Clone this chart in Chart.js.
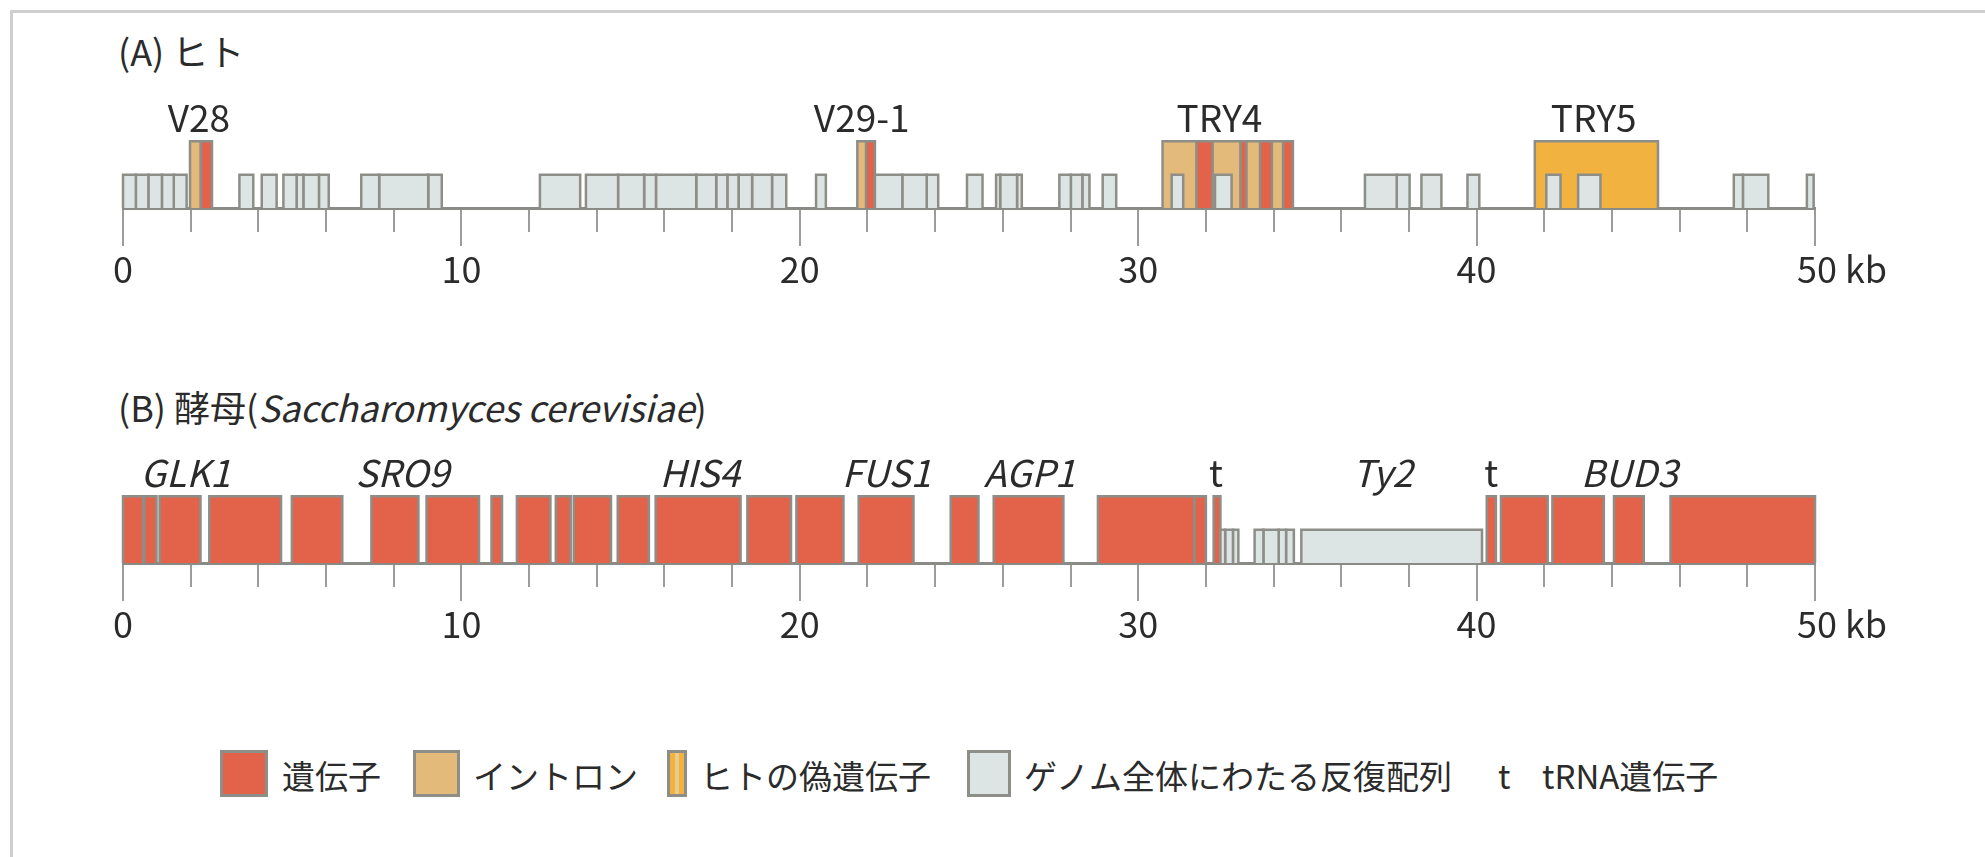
<!DOCTYPE html>
<html lang="ja">
<head>
<meta charset="utf-8">
<title>ヒトと酵母のゲノム領域 50 kb</title>
<script src="https://cdn.jsdelivr.net/npm/chart.js@4.4.1/dist/chart.umd.min.js"></script>
<style>
  html, body { margin: 0; padding: 0; background: #fff; }
  body {
    width: 1985px; height: 857px; position: relative; overflow: hidden;
    font-family: "Noto Sans CJK JP", "Noto Sans", sans-serif; color: #2b2b2b;
  }
  .frame { position: absolute; left: 10px; top: 10px; width: 2100px; height: 1000px; border: 3px solid #cfcfcf; }
  .title { position: absolute; left: 118px; font-size: 36px; line-height: 36px; white-space: nowrap; }
  canvas { position: absolute; left: 0; }
  .sw { position: absolute; top: 750px; height: 41px; border: 3px solid #8e8e89; }
  .lt { position: absolute; top: 759px; font-size: 33px; line-height: 33px; white-space: nowrap; }
</style>
</head>
<body>
<div class="frame"></div>

<div class="title" style="top:32px">(A) ヒト</div>
<canvas id="human" width="1985" height="300" style="top:0px"></canvas>

<div class="title" style="top:388px">(B) 酵母(<i>Saccharomyces cerevisiae</i>)</div>
<canvas id="yeast" width="1985" height="300" style="top:355px"></canvas>

<!-- legend -->
<div class="sw" style="left:220px;width:42px;background:#E2634A"></div>
<div class="lt" style="left:282px">遺伝子</div>
<div class="sw" style="left:413px;width:41px;background:#E3BA79"></div>
<div class="lt" style="left:473px">イントロン</div>
<div class="sw" style="left:667px;width:14px;background:linear-gradient(to right,#F2B23F 0 35%,#EBCB8C 35% 65%,#F2B23F 65%)"></div>
<div class="lt" style="left:700px">ヒトの偽遺伝子</div>
<div class="sw" style="left:967px;width:38px;background:#DDE4E4"></div>
<div class="lt" style="left:1024px">ゲノム全体にわたる反復配列</div>
<div class="lt" style="left:1498px">t</div>
<div class="lt" style="left:1542px">tRNA遺伝子</div>

<script>
// ---- positions along the 50 kb region (kb) ----
const kbTickValues = [0, 10, 20, 30, 40, 50];
const kbTickLabels = ['0', '10', '20', '30', '40', '50 kb'];

// (A) human: runs of adjacent genome-wide repeat units, given as their boundaries
const humanRepeats = [
  [0, 0.38, 0.75, 1.15, 1.5, 1.88],
  [3.44, 3.85],
  [4.1, 4.54],
  [4.74, 5.13, 5.33, 5.79, 6.08],
  [7.04, 7.57, 9.02, 9.42],
  [12.32, 13.51],
  [13.68, 14.63, 15.4, 15.75, 16.94, 17.53, 17.86, 18.19, 18.59, 19.18, 19.6],
  [20.48, 20.77],
  [22.22, 23.03, 23.75, 24.09],
  [24.94, 25.4],
  [25.8, 25.92, 26.42, 26.56],
  [27.67, 28.01, 28.35, 28.56],
  [28.95, 29.35],
  [30.99, 31.33],
  [32.27, 32.76],
  [36.7, 37.64, 38.02],
  [38.37, 38.96],
  [39.73, 40.08],
  [42.06, 42.48],
  [43.0, 43.66],
  [47.6, 47.87, 48.62],
  [49.76, 49.96]
];
const humanIntrons = [[1.98, 2.3], [21.7, 21.96], [30.72, 34.57]];
const humanExons = [[2.3, 2.63], [21.96, 22.22], [31.72, 32.2], [33.02, 33.2], [33.6, 33.95], [34.28, 34.57]];
const humanPseudogenes = [[41.72, 45.36]];
const humanLabelNames = ['V28', 'V29-1', 'TRY4', 'TRY5'];
const humanLabelKb = [2.24, 21.83, 32.4, 43.46];
const humanLabelItalic = [false, false, false, false];

// (B) yeast
const yeastGenes = [
  [0, 0.6], [0.63, 0.99], [1.08, 2.29], [2.55, 4.67], [4.99, 6.48], [7.34, 8.73],
  [8.97, 10.52], [10.89, 11.2], [11.64, 12.63], [12.79, 13.23], [13.32, 14.42],
  [14.62, 15.54], [15.74, 18.25], [18.45, 19.74], [19.9, 21.29], [21.74, 23.36],
  [24.46, 25.28], [25.73, 27.79], [28.81, 31.66], [31.66, 32.0],
  [40.72, 42.1], [42.24, 43.76], [44.06, 44.94], [45.73, 50.0]
];
const yeastTRNAs = [[32.23, 32.43], [40.3, 40.57]];
const yeastRepeats = [
  [32.43, 32.57, 32.8, 32.96],
  [33.44, 33.7, 34.15, 34.37, 34.6],
  [34.82, 40.16]
];
const yeastLabelNames = ['GLK1', 'SRO9', 'HIS4', 'FUS1', 'AGP1', 't', 'Ty2', 't', 'BUD3'];
const yeastLabelKb = [1.85, 8.25, 17.04, 22.56, 26.79, 32.3, 37.22, 40.43, 44.51];
const yeastLabelItalic = [true, true, true, true, true, false, true, false, true];

// ---- drawing style ----
const TALL = 2, SHORT = 1;           // box heights in track units
const COLORS = {
  gene: '#E2634A', intron: '#E3BA79', pseudo: '#F2B23F', repeat: '#DDE4E4',
  outline: '#8e8e89', axis: '#8a8a86', tick: '#9c9c98', text: '#2b2b2b'
};
const FONT = '"Noto Sans CJK JP", "Noto Sans", sans-serif';
Chart.defaults.font.family = FONT;

// one closed box = one filled line from baseline up and back down
function box(span, height, fill, order) {
  const [s, e] = span;
  return {
    data: [{x: s, y: 0}, {x: s, y: height}, {x: e, y: height}, {x: e, y: 0}],
    showLine: true, fill: 'origin', backgroundColor: fill,
    borderColor: COLORS.outline, borderWidth: 2.5, borderJoinStyle: 'miter',
    pointRadius: 0, pointHoverRadius: 0, tension: 0, order, clip: false
  };
}
function units(bounds) {
  const out = [];
  for (let i = 0; i < bounds.length - 1; i++) out.push([bounds[i], bounds[i + 1]]);
  return out;
}

// names written above the track, placed on the kb scale
function labelPlugin(names, kb, italic) {
  return {
    id: 'trackLabels',
    afterDatasetsDraw(chart) {
      const {ctx, scales: {x, y}} = chart;
      ctx.save();
      ctx.fillStyle = COLORS.text;
      ctx.textAlign = 'center';
      ctx.textBaseline = 'middle';
      names.forEach((n, i) => {
        ctx.font = (italic[i] ? 'italic ' : '') + '37px ' + FONT;
        ctx.fillText(n, x.getPixelForValue(kb[i]), y.getPixelForValue(2.7));
      });
      ctx.restore();
    }
  };
}

function makeChart(id, datasets, plugin) {
  return new Chart(document.getElementById(id), {
    type: 'scatter',
    data: {datasets},
    options: {
      responsive: false, animation: false, events: [],
      layout: {padding: {left: 123, right: 170, top: 8, bottom: 0}},
      plugins: {legend: {display: false}, tooltip: {enabled: false}},
      scales: {
        y: {display: false, min: 0, max: 6},
        xm: {
          type: 'linear', position: 'bottom', weight: 0, min: 0, max: 50,
          ticks: {stepSize: 2, display: false},
          grid: {drawOnChartArea: false, tickLength: 24, color: COLORS.tick, lineWidth: 2},
          border: {display: false},
          afterFit: s => { s.height = 0; }
        },
        x: {
          type: 'linear', position: 'bottom', weight: 1, min: 0, max: 50,
          afterBuildTicks: s => { s.ticks = kbTickValues.map(v => ({value: v})); },
          ticks: {
            autoSkip: false, maxRotation: 0, padding: 2, color: COLORS.text,
            font: {size: 36},
            callback: (v, i) => i === kbTickLabels.length - 1
              ? '\u2003\u2002' + kbTickLabels[i] : kbTickLabels[i]
          },
          grid: {drawOnChartArea: false, tickLength: 38, color: COLORS.tick, lineWidth: 2},
          border: {display: true, color: COLORS.axis, width: 3},
          afterFit: s => { s.height = 92; }
        }
      }
    },
    plugins: [plugin]
  });
}

// (A) human track
const humanSets = [];
humanIntrons.forEach(sp => humanSets.push(box(sp, TALL, COLORS.intron, 3)));
humanPseudogenes.forEach(sp => humanSets.push(box(sp, TALL, COLORS.pseudo, 3)));
humanExons.forEach(sp => humanSets.push(box(sp, TALL, COLORS.gene, 2)));
humanRepeats.forEach(run => units(run).forEach(sp => humanSets.push(box(sp, SHORT, COLORS.repeat, 1))));
makeChart('human', humanSets, labelPlugin(humanLabelNames, humanLabelKb, humanLabelItalic));

// (B) yeast track
const yeastSets = [];
yeastGenes.forEach(sp => yeastSets.push(box(sp, TALL, COLORS.gene, 2)));
yeastTRNAs.forEach(sp => yeastSets.push(box(sp, TALL, COLORS.gene, 2)));
yeastRepeats.forEach(run => units(run).forEach(sp => yeastSets.push(box(sp, SHORT, COLORS.repeat, 1))));
makeChart('yeast', yeastSets, labelPlugin(yeastLabelNames, yeastLabelKb, yeastLabelItalic));
</script>
</body>
</html>
